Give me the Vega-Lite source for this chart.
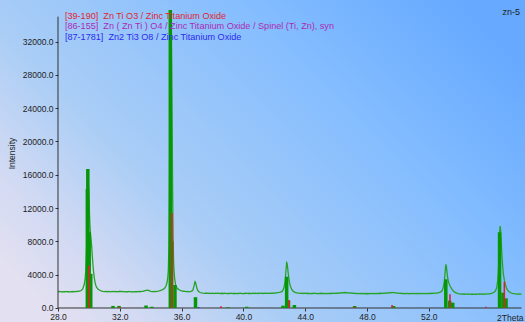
{
  "$schema": "https://vega.github.io/schema/vega-lite/v6.json",
  "width": 525,
  "height": 322,
  "autosize": {"type": "none"},
  "padding": 0,
  "background": "#a8cdf6",
  "config": {
    "font": "Liberation Sans",
    "view": {
      "stroke": null,
      "fill": {
        "gradient": "linear",
        "x1": 0, "y1": 0.8, "x2": 1, "y2": 0.2,
        "stops": [
          {"offset": 0, "color": "#e2e0f1"},
          {"offset": 0.12, "color": "#d2daf3"},
          {"offset": 0.32, "color": "#a9cdf6"},
          {"offset": 0.7, "color": "#84bdff"},
          {"offset": 1, "color": "#66a9ff"}
        ]
      }
    },
    "axis": {"grid": false, "labelFont": "Liberation Sans", "titleFont": "Liberation Sans", "labelColor": "#1e1e1e", "tickColor": "#333333", "titleColor": "#1e1e1e"}
  },
  "datasets": {
    "scan": [
      {"angle": 28.0, "intensity": 1950}, {"angle": 28.1, "intensity": 1985}, {"angle": 28.2, "intensity": 1940}, {"angle": 28.3, "intensity": 1970},
      {"angle": 28.4, "intensity": 1925}, {"angle": 28.5, "intensity": 1990}, {"angle": 28.6, "intensity": 1950}, {"angle": 28.7, "intensity": 1975},
      {"angle": 28.8, "intensity": 1935}, {"angle": 28.9, "intensity": 1980}, {"angle": 29.0, "intensity": 1955}, {"angle": 29.1, "intensity": 1990},
      {"angle": 29.2, "intensity": 1960}, {"angle": 29.3, "intensity": 2010}, {"angle": 29.4, "intensity": 2030}, {"angle": 29.5, "intensity": 2100},
      {"angle": 29.6, "intensity": 2280}, {"angle": 29.7, "intensity": 2850}, {"angle": 29.75, "intensity": 3400}, {"angle": 29.8, "intensity": 4500},
      {"angle": 29.85, "intensity": 7200}, {"angle": 29.88, "intensity": 10500}, {"angle": 29.91, "intensity": 14500}, {"angle": 29.93, "intensity": 16650},
      {"angle": 29.95, "intensity": 15800}, {"angle": 29.98, "intensity": 14600}, {"angle": 30.01, "intensity": 13200}, {"angle": 30.04, "intensity": 11200},
      {"angle": 30.07, "intensity": 9800}, {"angle": 30.1, "intensity": 9000}, {"angle": 30.14, "intensity": 8300}, {"angle": 30.18, "intensity": 7400},
      {"angle": 30.22, "intensity": 6300}, {"angle": 30.26, "intensity": 5200}, {"angle": 30.3, "intensity": 4400}, {"angle": 30.35, "intensity": 3600},
      {"angle": 30.4, "intensity": 3050}, {"angle": 30.45, "intensity": 2700}, {"angle": 30.5, "intensity": 2480}, {"angle": 30.6, "intensity": 2250},
      {"angle": 30.7, "intensity": 2130}, {"angle": 30.8, "intensity": 2060}, {"angle": 30.9, "intensity": 2010}, {"angle": 31.0, "intensity": 1970},
      {"angle": 31.1, "intensity": 2005}, {"angle": 31.2, "intensity": 1955}, {"angle": 31.3, "intensity": 1990}, {"angle": 31.4, "intensity": 1945},
      {"angle": 31.5, "intensity": 1985}, {"angle": 31.6, "intensity": 1960}, {"angle": 31.7, "intensity": 1995}, {"angle": 31.8, "intensity": 1950},
      {"angle": 31.9, "intensity": 1975}, {"angle": 32.0, "intensity": 2010}, {"angle": 32.1, "intensity": 1965}, {"angle": 32.2, "intensity": 1990},
      {"angle": 32.3, "intensity": 1940}, {"angle": 32.4, "intensity": 1975}, {"angle": 32.5, "intensity": 1950}, {"angle": 32.6, "intensity": 1985},
      {"angle": 32.7, "intensity": 1945}, {"angle": 32.8, "intensity": 1970}, {"angle": 32.9, "intensity": 1935}, {"angle": 33.0, "intensity": 1975},
      {"angle": 33.1, "intensity": 1950}, {"angle": 33.2, "intensity": 1990}, {"angle": 33.3, "intensity": 1955}, {"angle": 33.4, "intensity": 1985},
      {"angle": 33.5, "intensity": 2000}, {"angle": 33.6, "intensity": 2060}, {"angle": 33.7, "intensity": 2120}, {"angle": 33.8, "intensity": 2150},
      {"angle": 33.9, "intensity": 2080}, {"angle": 34.0, "intensity": 2010}, {"angle": 34.1, "intensity": 1975}, {"angle": 34.2, "intensity": 1990},
      {"angle": 34.3, "intensity": 1960}, {"angle": 34.4, "intensity": 2005}, {"angle": 34.5, "intensity": 2030}, {"angle": 34.6, "intensity": 2080},
      {"angle": 34.7, "intensity": 2150}, {"angle": 34.8, "intensity": 2230}, {"angle": 34.9, "intensity": 2380}, {"angle": 34.95, "intensity": 2500},
      {"angle": 35.0, "intensity": 2700}, {"angle": 35.05, "intensity": 3000}, {"angle": 35.1, "intensity": 3600}, {"angle": 35.14, "intensity": 4500},
      {"angle": 35.18, "intensity": 7500}, {"angle": 35.21, "intensity": 13000}, {"angle": 35.24, "intensity": 22000}, {"angle": 35.27, "intensity": 31500},
      {"angle": 35.29, "intensity": 35700}, {"angle": 35.31, "intensity": 34500}, {"angle": 35.33, "intensity": 33500}, {"angle": 35.36, "intensity": 29000},
      {"angle": 35.39, "intensity": 22000}, {"angle": 35.42, "intensity": 14000}, {"angle": 35.45, "intensity": 8500}, {"angle": 35.48, "intensity": 5600},
      {"angle": 35.52, "intensity": 4200}, {"angle": 35.56, "intensity": 3400}, {"angle": 35.6, "intensity": 2900}, {"angle": 35.65, "intensity": 2600},
      {"angle": 35.7, "intensity": 2400}, {"angle": 35.8, "intensity": 2230}, {"angle": 35.9, "intensity": 2130}, {"angle": 36.0, "intensity": 2060},
      {"angle": 36.1, "intensity": 2010}, {"angle": 36.2, "intensity": 1990}, {"angle": 36.3, "intensity": 1960}, {"angle": 36.4, "intensity": 1985},
      {"angle": 36.5, "intensity": 1950}, {"angle": 36.6, "intensity": 1990}, {"angle": 36.7, "intensity": 2080}, {"angle": 36.75, "intensity": 2250},
      {"angle": 36.8, "intensity": 2600}, {"angle": 36.84, "intensity": 2950}, {"angle": 36.87, "intensity": 3150}, {"angle": 36.9, "intensity": 3080},
      {"angle": 36.94, "intensity": 2800}, {"angle": 36.98, "intensity": 2450}, {"angle": 37.03, "intensity": 2180}, {"angle": 37.1, "intensity": 1980},
      {"angle": 37.2, "intensity": 1860}, {"angle": 37.3, "intensity": 1820}, {"angle": 37.4, "intensity": 1790}, {"angle": 37.5, "intensity": 1765},
      {"angle": 37.6, "intensity": 1800}, {"angle": 37.7, "intensity": 1750}, {"angle": 37.8, "intensity": 1785}, {"angle": 37.9, "intensity": 1740},
      {"angle": 38.0, "intensity": 1775}, {"angle": 38.1, "intensity": 1735}, {"angle": 38.2, "intensity": 1790}, {"angle": 38.3, "intensity": 1750},
      {"angle": 38.4, "intensity": 1780}, {"angle": 38.5, "intensity": 1735}, {"angle": 38.6, "intensity": 1770}, {"angle": 38.7, "intensity": 1745},
      {"angle": 38.8, "intensity": 1785}, {"angle": 38.9, "intensity": 1730}, {"angle": 39.0, "intensity": 1765}, {"angle": 39.1, "intensity": 1740},
      {"angle": 39.2, "intensity": 1780}, {"angle": 39.3, "intensity": 1735}, {"angle": 39.4, "intensity": 1770}, {"angle": 39.5, "intensity": 1725},
      {"angle": 39.6, "intensity": 1760}, {"angle": 39.7, "intensity": 1740}, {"angle": 39.8, "intensity": 1775}, {"angle": 39.9, "intensity": 1730},
      {"angle": 40.0, "intensity": 1765}, {"angle": 40.1, "intensity": 1745}, {"angle": 40.2, "intensity": 1780}, {"angle": 40.3, "intensity": 1740},
      {"angle": 40.4, "intensity": 1770}, {"angle": 40.5, "intensity": 1735}, {"angle": 40.6, "intensity": 1775}, {"angle": 40.7, "intensity": 1745},
      {"angle": 40.8, "intensity": 1780}, {"angle": 40.9, "intensity": 1740}, {"angle": 41.0, "intensity": 1770}, {"angle": 41.1, "intensity": 1750},
      {"angle": 41.2, "intensity": 1785}, {"angle": 41.3, "intensity": 1745}, {"angle": 41.4, "intensity": 1775}, {"angle": 41.5, "intensity": 1755},
      {"angle": 41.6, "intensity": 1790}, {"angle": 41.7, "intensity": 1760}, {"angle": 41.8, "intensity": 1795}, {"angle": 41.9, "intensity": 1770},
      {"angle": 42.0, "intensity": 1810}, {"angle": 42.1, "intensity": 1790}, {"angle": 42.2, "intensity": 1840}, {"angle": 42.3, "intensity": 1870},
      {"angle": 42.4, "intensity": 1920}, {"angle": 42.5, "intensity": 2000}, {"angle": 42.58, "intensity": 2200}, {"angle": 42.64, "intensity": 2550},
      {"angle": 42.69, "intensity": 3100}, {"angle": 42.73, "intensity": 3900}, {"angle": 42.77, "intensity": 4800}, {"angle": 42.8, "intensity": 5450},
      {"angle": 42.83, "intensity": 5350}, {"angle": 42.86, "intensity": 4900}, {"angle": 42.9, "intensity": 4200}, {"angle": 42.94, "intensity": 3600},
      {"angle": 42.98, "intensity": 3100}, {"angle": 43.03, "intensity": 2700}, {"angle": 43.1, "intensity": 2350}, {"angle": 43.18, "intensity": 2100},
      {"angle": 43.26, "intensity": 1960}, {"angle": 43.35, "intensity": 1880}, {"angle": 43.45, "intensity": 1820}, {"angle": 43.55, "intensity": 1790},
      {"angle": 43.6, "intensity": 1795}, {"angle": 43.7, "intensity": 1760}, {"angle": 43.8, "intensity": 1785}, {"angle": 43.9, "intensity": 1745},
      {"angle": 44.0, "intensity": 1775}, {"angle": 44.1, "intensity": 1740}, {"angle": 44.2, "intensity": 1770}, {"angle": 44.3, "intensity": 1735},
      {"angle": 44.4, "intensity": 1765}, {"angle": 44.5, "intensity": 1740}, {"angle": 44.6, "intensity": 1775}, {"angle": 44.7, "intensity": 1730},
      {"angle": 44.8, "intensity": 1760}, {"angle": 44.9, "intensity": 1735}, {"angle": 45.0, "intensity": 1770}, {"angle": 45.1, "intensity": 1740},
      {"angle": 45.2, "intensity": 1765}, {"angle": 45.3, "intensity": 1725}, {"angle": 45.4, "intensity": 1760}, {"angle": 45.5, "intensity": 1735},
      {"angle": 45.6, "intensity": 1770}, {"angle": 45.7, "intensity": 1745}, {"angle": 45.8, "intensity": 1775}, {"angle": 45.9, "intensity": 1750},
      {"angle": 46.0, "intensity": 1785}, {"angle": 46.1, "intensity": 1770}, {"angle": 46.2, "intensity": 1810}, {"angle": 46.3, "intensity": 1800},
      {"angle": 46.4, "intensity": 1845}, {"angle": 46.5, "intensity": 1830}, {"angle": 46.6, "intensity": 1860}, {"angle": 46.7, "intensity": 1820},
      {"angle": 46.8, "intensity": 1835}, {"angle": 46.9, "intensity": 1790}, {"angle": 47.0, "intensity": 1800}, {"angle": 47.1, "intensity": 1755},
      {"angle": 47.2, "intensity": 1770}, {"angle": 47.3, "intensity": 1735}, {"angle": 47.4, "intensity": 1760}, {"angle": 47.5, "intensity": 1720},
      {"angle": 47.6, "intensity": 1750}, {"angle": 47.7, "intensity": 1715}, {"angle": 47.8, "intensity": 1745}, {"angle": 47.9, "intensity": 1710},
      {"angle": 48.0, "intensity": 1740}, {"angle": 48.1, "intensity": 1715}, {"angle": 48.2, "intensity": 1750}, {"angle": 48.3, "intensity": 1720},
      {"angle": 48.4, "intensity": 1755}, {"angle": 48.5, "intensity": 1725}, {"angle": 48.6, "intensity": 1760}, {"angle": 48.7, "intensity": 1735},
      {"angle": 48.8, "intensity": 1770}, {"angle": 48.9, "intensity": 1745}, {"angle": 49.0, "intensity": 1780}, {"angle": 49.1, "intensity": 1765},
      {"angle": 49.2, "intensity": 1800}, {"angle": 49.3, "intensity": 1790}, {"angle": 49.4, "intensity": 1830}, {"angle": 49.5, "intensity": 1825},
      {"angle": 49.6, "intensity": 1860}, {"angle": 49.7, "intensity": 1840}, {"angle": 49.8, "intensity": 1850}, {"angle": 49.9, "intensity": 1800},
      {"angle": 50.0, "intensity": 1795}, {"angle": 50.1, "intensity": 1755}, {"angle": 50.2, "intensity": 1770}, {"angle": 50.3, "intensity": 1730},
      {"angle": 50.4, "intensity": 1755}, {"angle": 50.5, "intensity": 1720}, {"angle": 50.6, "intensity": 1750}, {"angle": 50.7, "intensity": 1715},
      {"angle": 50.8, "intensity": 1745}, {"angle": 50.9, "intensity": 1720}, {"angle": 51.0, "intensity": 1755}, {"angle": 51.1, "intensity": 1725},
      {"angle": 51.2, "intensity": 1750}, {"angle": 51.3, "intensity": 1715}, {"angle": 51.4, "intensity": 1745}, {"angle": 51.5, "intensity": 1720},
      {"angle": 51.6, "intensity": 1755}, {"angle": 51.7, "intensity": 1730}, {"angle": 51.8, "intensity": 1760}, {"angle": 51.9, "intensity": 1735},
      {"angle": 52.0, "intensity": 1765}, {"angle": 52.1, "intensity": 1740}, {"angle": 52.2, "intensity": 1770}, {"angle": 52.3, "intensity": 1750},
      {"angle": 52.4, "intensity": 1785}, {"angle": 52.5, "intensity": 1780}, {"angle": 52.6, "intensity": 1830}, {"angle": 52.7, "intensity": 1880},
      {"angle": 52.8, "intensity": 1960}, {"angle": 52.88, "intensity": 2150}, {"angle": 52.94, "intensity": 2500}, {"angle": 53.0, "intensity": 3100},
      {"angle": 53.04, "intensity": 3900}, {"angle": 53.08, "intensity": 4800}, {"angle": 53.11, "intensity": 5250}, {"angle": 53.14, "intensity": 5000},
      {"angle": 53.17, "intensity": 4400}, {"angle": 53.21, "intensity": 3800}, {"angle": 53.25, "intensity": 3350}, {"angle": 53.3, "intensity": 3000},
      {"angle": 53.35, "intensity": 2750}, {"angle": 53.4, "intensity": 2550}, {"angle": 53.46, "intensity": 2380}, {"angle": 53.52, "intensity": 2200},
      {"angle": 53.6, "intensity": 2020}, {"angle": 53.7, "intensity": 1880}, {"angle": 53.8, "intensity": 1780}, {"angle": 53.9, "intensity": 1730},
      {"angle": 54.0, "intensity": 1700}, {"angle": 54.1, "intensity": 1670}, {"angle": 54.2, "intensity": 1695}, {"angle": 54.3, "intensity": 1655},
      {"angle": 54.4, "intensity": 1690}, {"angle": 54.5, "intensity": 1650}, {"angle": 54.6, "intensity": 1685}, {"angle": 54.7, "intensity": 1645},
      {"angle": 54.8, "intensity": 1680}, {"angle": 54.9, "intensity": 1640}, {"angle": 55.0, "intensity": 1675}, {"angle": 55.1, "intensity": 1650},
      {"angle": 55.2, "intensity": 1690}, {"angle": 55.3, "intensity": 1655}, {"angle": 55.4, "intensity": 1685}, {"angle": 55.5, "intensity": 1650},
      {"angle": 55.6, "intensity": 1690}, {"angle": 55.7, "intensity": 1660}, {"angle": 55.8, "intensity": 1700}, {"angle": 55.9, "intensity": 1690},
      {"angle": 56.0, "intensity": 1740}, {"angle": 56.1, "intensity": 1780}, {"angle": 56.2, "intensity": 1860}, {"angle": 56.28, "intensity": 1980},
      {"angle": 56.35, "intensity": 2200}, {"angle": 56.41, "intensity": 2600}, {"angle": 56.46, "intensity": 3300}, {"angle": 56.5, "intensity": 4300},
      {"angle": 56.54, "intensity": 6000}, {"angle": 56.57, "intensity": 8000}, {"angle": 56.6, "intensity": 9500}, {"angle": 56.62, "intensity": 9850},
      {"angle": 56.65, "intensity": 9400}, {"angle": 56.68, "intensity": 8300}, {"angle": 56.72, "intensity": 6800}, {"angle": 56.76, "intensity": 5600},
      {"angle": 56.8, "intensity": 4600}, {"angle": 56.85, "intensity": 3800}, {"angle": 56.9, "intensity": 3250}, {"angle": 56.96, "intensity": 2800},
      {"angle": 57.03, "intensity": 2400}, {"angle": 57.1, "intensity": 2150}, {"angle": 57.2, "intensity": 1950}, {"angle": 57.3, "intensity": 1830},
      {"angle": 57.4, "intensity": 1760}, {"angle": 57.5, "intensity": 1720}, {"angle": 57.6, "intensity": 1700}, {"angle": 57.7, "intensity": 1670},
      {"angle": 57.8, "intensity": 1690}, {"angle": 57.9, "intensity": 1655}, {"angle": 58.0, "intensity": 1670}
    ],
    "peaks": [
      {"angle": 29.9, "intensity": 14300}, {"angle": 29.93, "intensity": 16700}, {"angle": 30.02, "intensity": 9100}, {"angle": 30.12, "intensity": 4100},
      {"angle": 31.56, "intensity": 250}, {"angle": 31.95, "intensity": 250}, {"angle": 33.7, "intensity": 300}, {"angle": 34.08, "intensity": 150},
      {"angle": 35.27, "intensity": 35800}, {"angle": 35.36, "intensity": 8000}, {"angle": 35.57, "intensity": 2760}, {"angle": 36.9, "intensity": 1300},
      {"angle": 39.0, "intensity": 100}, {"angle": 40.21, "intensity": 150}, {"angle": 42.56, "intensity": 280}, {"angle": 42.8, "intensity": 3760},
      {"angle": 42.92, "intensity": 880}, {"angle": 43.3, "intensity": 360}, {"angle": 47.2, "intensity": 240}, {"angle": 49.72, "intensity": 240},
      {"angle": 53.1, "intensity": 3450}, {"angle": 53.35, "intensity": 880}, {"angle": 53.55, "intensity": 640}, {"angle": 56.58, "intensity": 9100},
      {"angle": 56.8, "intensity": 1840}, {"angle": 57.0, "intensity": 1160}
    ],
    "znTiO3": [
      {"angle": 30.02, "intensity": 5100}, {"angle": 31.97, "intensity": 150}, {"angle": 35.38, "intensity": 11400}, {"angle": 38.55, "intensity": 200},
      {"angle": 42.95, "intensity": 960}, {"angle": 47.15, "intensity": 150}, {"angle": 49.62, "intensity": 360}, {"angle": 53.37, "intensity": 1640},
      {"angle": 55.7, "intensity": 150}, {"angle": 56.89, "intensity": 3160}
    ],
    "zn2Ti3O8": [
      {"angle": 37.1, "intensity": 100}
    ]
  },
  "layer": [
    {
      "data": {"name": "scan"},
      "mark": {"type": "line", "color": "#26a326", "strokeWidth": 1.3},
      "encoding": {
        "x": {
          "field": "angle", "type": "quantitative",
          "scale": {"domain": [24.246, 58.227], "nice": false, "zero": false},
          "axis": {
            "values": [28, 32, 36, 40, 44, 48, 52], "format": ".1f", "domain": false, "offset": -14,
            "tickSize": 3, "labelFontSize": 8.5, "labelPadding": 1, "labelFlush": false,
            "title": "2Theta", "titleFontSize": 8.5, "titleFontWeight": "normal",
            "titleX": 523, "titleY": 9, "titleAlign": "right", "titleBaseline": "middle"
          }
        },
        "y": {
          "field": "intensity", "type": "quantitative",
          "scale": {"domain": [-1682, 36997], "nice": false, "zero": false},
          "axis": {
            "values": [0, 4000, 8000, 12000, 16000, 20000, 24000, 28000, 32000], "format": ".1f", "domain": false, "offset": -58,
            "tickSize": 3, "labelFontSize": 8.5, "labelPadding": 2, "labelFlush": false,
            "title": "Intensity", "titleFontSize": 8.5, "titleFontWeight": "normal",
            "titleX": -47, "titleY": 153, "titleAngle": 270, "titleAlign": "center", "titleBaseline": "middle"
          }
        }
      }
    },
    {
      "data": {"values": [{"axis": "x"}]},
      "mark": {"type": "rule", "color": "#333333", "strokeWidth": 1},
      "encoding": {
        "x": {"datum": 28, "type": "quantitative"},
        "x2": {"datum": 58},
        "y": {"datum": 0, "type": "quantitative"}
      }
    },
    {
      "data": {"values": [{"axis": "y"}]},
      "mark": {"type": "rule", "color": "#333333", "strokeWidth": 1},
      "encoding": {
        "x": {"datum": 28, "type": "quantitative"},
        "y": {"datum": 0, "type": "quantitative"},
        "y2": {"datum": 35000}
      }
    },
    {
      "data": {"name": "peaks"},
      "mark": {"type": "rule", "color": "#079607", "strokeWidth": 3.5},
      "encoding": {
        "x": {"field": "angle", "type": "quantitative"},
        "y": {"field": "intensity", "type": "quantitative"},
        "y2": {"datum": 0}
      }
    },
    {
      "data": {"name": "znTiO3"},
      "mark": {"type": "rule", "color": "#e0202a", "strokeWidth": 1.6},
      "encoding": {
        "x": {"field": "angle", "type": "quantitative"},
        "y": {"field": "intensity", "type": "quantitative"},
        "y2": {"datum": 0}
      }
    },
    {
      "data": {"name": "zn2Ti3O8"},
      "mark": {"type": "rule", "color": "#2a2aee", "strokeWidth": 1.6},
      "encoding": {
        "x": {"field": "angle", "type": "quantitative"},
        "y": {"field": "intensity", "type": "quantitative"},
        "y2": {"datum": 0}
      }
    },
    {
      "data": {"values": [{"label": "[39-190]\u00a0 Zn Ti O3 / Zinc Titanium Oxide"}]},
      "mark": {"type": "text", "align": "left", "baseline": "middle", "fontSize": 9.1, "font": "Liberation Sans", "color": "#e02430"},
      "encoding": {
        "x": {"datum": 28.45, "type": "quantitative"},
        "y": {"datum": 35111, "type": "quantitative"},
        "text": {"field": "label"}
      }
    },
    {
      "data": {"values": [{"label": "[86-155]\u00a0 Zn ( Zn Ti ) O4 / Zinc Titanium Oxide / Spinel (Ti, Zn), syn"}]},
      "mark": {"type": "text", "align": "left", "baseline": "middle", "fontSize": 9.1, "font": "Liberation Sans", "color": "#a82cb4"},
      "encoding": {
        "x": {"datum": 28.45, "type": "quantitative"},
        "y": {"datum": 33874, "type": "quantitative"},
        "text": {"field": "label"}
      }
    },
    {
      "data": {"values": [{"label": "[87-1781]\u00a0 Zn2 Ti3 O8 / Zinc Titanium Oxide"}]},
      "mark": {"type": "text", "align": "left", "baseline": "middle", "fontSize": 9.1, "font": "Liberation Sans", "color": "#2a2af0"},
      "encoding": {
        "x": {"datum": 28.45, "type": "quantitative"},
        "y": {"datum": 32553, "type": "quantitative"},
        "text": {"field": "label"}
      }
    },
    {
      "data": {"values": [{"label": "zn-5"}]},
      "mark": {"type": "text", "align": "right", "baseline": "middle", "fontSize": 9, "font": "Liberation Sans", "color": "#1e1e1e"},
      "encoding": {
        "x": {"datum": 57.9, "type": "quantitative"},
        "y": {"datum": 35520, "type": "quantitative"},
        "text": {"field": "label"}
      }
    }
  ]
}
